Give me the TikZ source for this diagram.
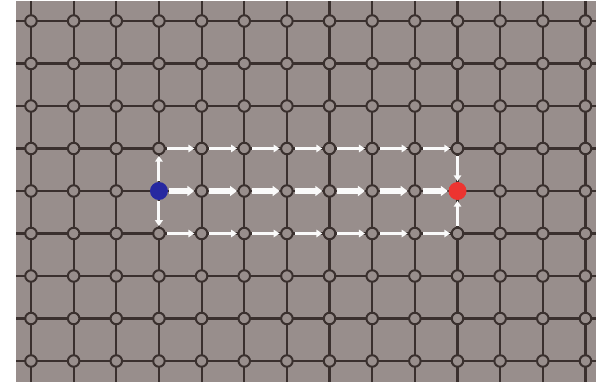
\documentclass[tikz,border=0pt]{standalone}
\usetikzlibrary{arrows.meta}
\definecolor{bgc}{RGB}{152,142,140}
\definecolor{gridc}{RGB}{58,48,46}
\definecolor{bluec}{RGB}{38,40,160}
\definecolor{redc}{RGB}{236,52,48}
\definecolor{arrc}{RGB}{250,250,250}
\tikzset{
  gridline/.style={draw=gridc,line width=2.2pt},
  gridnode/.style={circle,draw=gridc,fill=bgc,line width=2pt,minimum size=11.5pt,inner sep=0pt},
  endblue/.style={circle,fill=bluec,minimum size=18pt,inner sep=0pt},
  endred/.style={circle,fill=redc,minimum size=18pt,inner sep=0pt},
  thinarrow/.style={draw=arrc,line width=3pt,-{Triangle[length=6pt,width=7.5pt]},shorten <=1pt,shorten >=0.5pt},
  thickarrow/.style={draw=arrc,line width=5.5pt,-{Triangle[length=7pt,width=10pt]},shorten <=1pt,shorten >=0.5pt}
}
\begin{document}
\begin{tikzpicture}[x=1pt,y=-1pt]
\useasboundingbox (0,0) rectangle (606,382);
\fill[bgc] (16,1) rectangle (596,382);
% grid lines
\foreach \i in {0,...,13}{
  \pgfmathsetmacro{\xx}{31+\i*42.65}
  \draw[gridline] (\xx,1) -- (\xx,382);
}
\foreach \j in {0,...,8}{
  \pgfmathsetmacro{\yy}{21+\j*42.5}
  \draw[gridline] (16,\yy) -- (596,\yy);
}
% grid nodes
\foreach \i in {0,...,13}{
  \foreach \j in {0,...,8}{
    \pgfmathsetmacro{\xx}{31+\i*42.65}
    \pgfmathsetmacro{\yy}{21+\j*42.5}
    \node[gridnode] (n\i-\j) at (\xx,\yy) {};
  }
}
% endpoints
\node[endblue] (src) at (n3-4) {};
\node[endred] (dst) at (n10-4) {};
% top and bottom rows
\foreach \i [evaluate=\i as \k using int(\i+1)] in {3,...,9}{
  \draw[thinarrow] (n\i-3) -- (n\k-3);
  \draw[thinarrow] (n\i-5) -- (n\k-5);
}
% middle row
\draw[thickarrow] (src) -- (n4-4);
\foreach \i [evaluate=\i as \k using int(\i+1)] in {4,...,8}{
  \draw[thickarrow] (n\i-4) -- (n\k-4);
}
\draw[thickarrow] (n9-4) -- (dst);
% vertical arrows
\draw[thinarrow] (src) -- (n3-3);
\draw[thinarrow] (src) -- (n3-5);
\draw[thinarrow] (n10-3) -- (dst);
\draw[thinarrow] (n10-5) -- (dst);
\end{tikzpicture}
\end{document}
